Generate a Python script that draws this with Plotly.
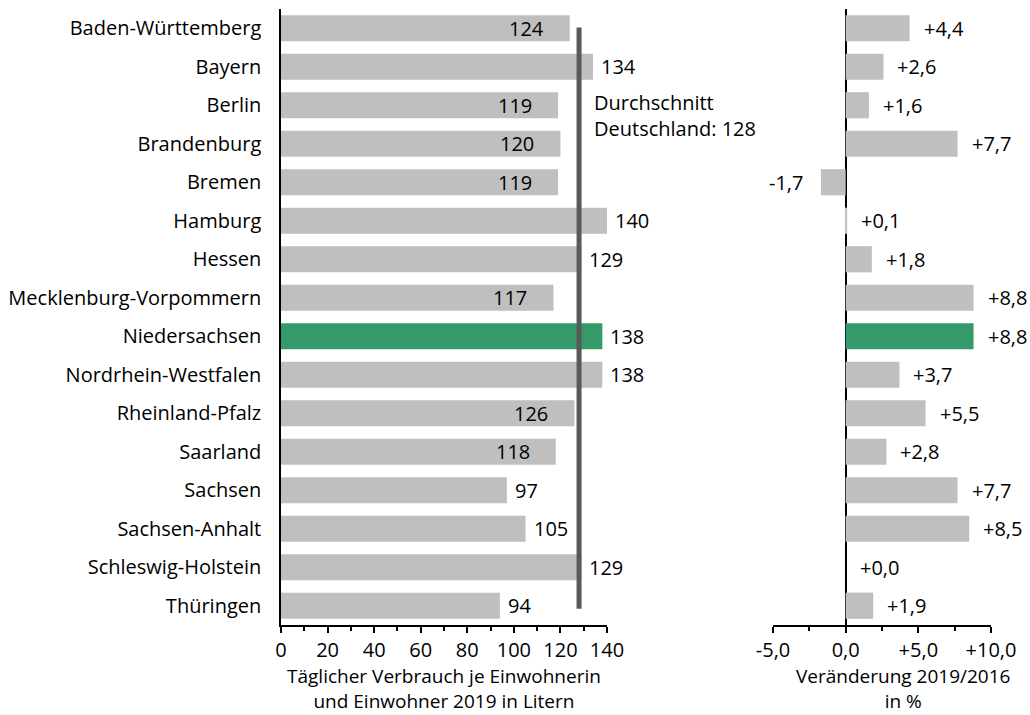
import plotly.graph_objects as go

# Bundesländer and daily water consumption per inhabitant (litres, 2019)
laender = [
    "Baden-Württemberg", "Bayern", "Berlin", "Brandenburg", "Bremen",
    "Hamburg", "Hessen", "Mecklenburg-Vorpommern", "Niedersachsen",
    "Nordrhein-Westfalen", "Rheinland-Pfalz", "Saarland", "Sachsen",
    "Sachsen-Anhalt", "Schleswig-Holstein", "Thüringen",
]
verbrauch_2019 = [124, 134, 119, 120, 119, 140, 129, 117, 138, 138, 126, 118, 97, 105, 129, 94]
# Change 2019 vs. 2016 in percent
veraenderung = [4.4, 2.6, 1.6, 7.7, -1.7, 0.1, 1.8, 8.8, 8.8, 3.7, 5.5, 2.8, 7.7, 8.5, 0.0, 1.9]
durchschnitt = 128
highlight = "Niedersachsen"

left_ticks = [0, 20, 40, 60, 80, 100, 120, 140]
right_ticks = [-5, 0, 5, 10]
right_ticktext = ["-5,0", "0,0", "+5,0", "+10,0"]

GRAY = "#BFBFBF"
GREEN = "#359A6A"
FONT = "Open Sans"
FS = 20
W, H = 1030, 715

colors = [GREEN if l == highlight else GRAY for l in laender]


def fmt_change(v):
    return f"{v:+.1f}".replace(".", ",")


fig = go.Figure()
fig.add_trace(go.Bar(y=laender, x=verbrauch_2019, orientation="h",
                     marker=dict(color=colors, line=dict(width=0)),
                     xaxis="x", yaxis="y", hoverinfo="skip", showlegend=False))
fig.add_trace(go.Bar(y=laender, x=veraenderung, orientation="h",
                     marker=dict(color=colors, line=dict(width=0)),
                     xaxis="x2", yaxis="y2", hoverinfo="skip", showlegend=False))

annotations = []
# value labels, left panel: inside the bar end when clear of the average line
for l, v in zip(laender, verbrauch_2019):
    inside = 110 <= v < durchschnitt
    annotations.append(dict(
        x=v, y=l, xref="x", yref="y", text=str(v), showarrow=False,
        xanchor="right" if inside else "left", xshift=-24 if inside else 6,
        font=dict(family=FONT, size=FS, color="#000000")))
# value labels, right panel
for l, v in zip(laender, veraenderung):
    pos = v >= 0
    annotations.append(dict(
        x=v, y=l, xref="x2", yref="y2", text=fmt_change(v), showarrow=False,
        xanchor="left" if pos else "right", xshift=12 if pos else -16,
        font=dict(family=FONT, size=FS, color="#000000")))

# average label
annotations.append(dict(x=592 / W, y=1 - 116 / H, xref="paper", yref="paper",
                        text=f"Durchschnitt<br>Deutschland: {durchschnitt}", showarrow=False,
                        xanchor="left", yanchor="middle", align="left",
                        font=dict(family=FONT, size=FS, color="#000000")))

# axis titles (two lines each, anchored to the bottom edge)
for txt, cx in [
    ("Täglicher Verbrauch je Einwohnerin<br>und Einwohner 2019 in Litern", 444),
    ("Veränderung 2019/2016<br>in %", 903),
]:
    annotations.append(dict(x=cx / W, y=0, xref="paper", yref="paper", text=txt,
                            showarrow=False, xanchor="center", yanchor="bottom", align="center",
                            borderpad=0,
                            font=dict(family=FONT, size=19, color="#000000")))

ydom = [1 - 625 / H, 1 - 9 / H]

fig.update_layout(
    width=W, height=H,
    margin=dict(l=0, r=0, t=0, b=0),
    paper_bgcolor="white", plot_bgcolor="white",
    font=dict(family=FONT, size=FS, color="#000000"),
    bargap=0.32,
    xaxis=dict(domain=[281 / W, 607 / W], range=[0, 140], tickvals=left_ticks,
               showgrid=False, zeroline=False, showline=True, linecolor="#000000", linewidth=1.5,
               ticks="outside", ticklen=6, tickwidth=1.5, tickcolor="#000000",
               ticklabelstandoff=0,
               minor=dict(dtick=10, ticks="outside", ticklen=4, tickwidth=1.5, tickcolor="#000000"),
               automargin=False, anchor="y", fixedrange=True),
    yaxis=dict(domain=ydom, autorange="reversed", showgrid=False, zeroline=False,
               showline=True, linecolor="#000000", linewidth=1.5, ticks="",
               ticklabelstandoff=14, automargin=False, anchor="x", fixedrange=True),
    xaxis2=dict(domain=[773 / W, 991 / W], range=[-5, 10], tickvals=right_ticks,
                ticktext=right_ticktext, showgrid=False, zeroline=True, zerolinecolor="#000000",
                zerolinewidth=1.5, showline=True, linecolor="#000000", linewidth=1.5,
                ticks="outside", ticklen=6, tickwidth=1.5, tickcolor="#000000",
                ticklabelstandoff=0,
                minor=dict(dtick=2.5, ticks="outside", ticklen=4, tickwidth=1.5, tickcolor="#000000"),
                automargin=False, anchor="y2", fixedrange=True),
    yaxis2=dict(domain=ydom, autorange="reversed", showgrid=False, zeroline=False,
                showline=False, showticklabels=False, ticks="", automargin=False,
                anchor="x2", fixedrange=True),
    annotations=annotations,
    shapes=[dict(type="line", xref="x", yref="y", x0=durchschnitt, x1=durchschnitt,
                 y0=-0.02, y1=len(laender) - 1 + 0.08,
                 line=dict(color="#595959", width=5), layer="above")],
)

fig.write_html("out.html")
